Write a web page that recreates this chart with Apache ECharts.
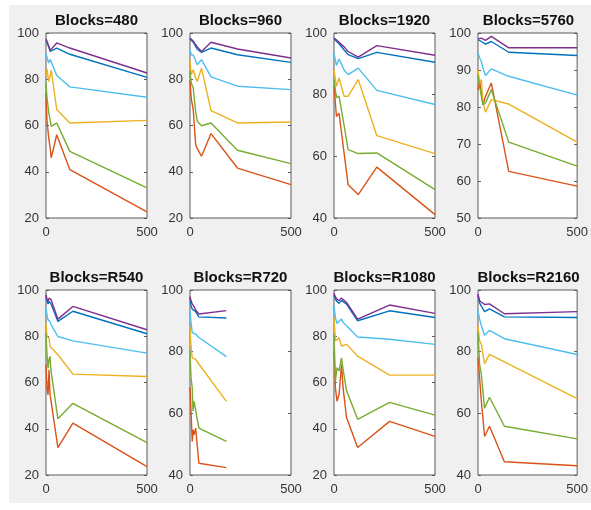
<!DOCTYPE html>
<html>
<head>
<meta charset="utf-8">
<script src="https://cdn.jsdelivr.net/npm/echarts@6/dist/echarts.min.js"></script>
<style>
  html, body { margin: 0; padding: 0; background: #ffffff; }
  #wrap { position: relative; width: 591px; height: 510px; background: #ffffff; overflow: hidden; }
  #figbg { position: absolute; left: 9px; top: 5px; width: 582px; height: 498px; background: #f0f0f0; }
  #chart { position: absolute; left: 0; top: 0; width: 591px; height: 510px; }
</style>
</head>
<body>
<div id="wrap">
  <div id="figbg"></div>
  <div id="chart"></div>
</div>
<script>
// ---- Blocks=480 ----
const x480      = [0, 5, 13, 21, 26, 53, 118, 500];
const purple480 = [97.5, 97.3, 94.5, 92.5, 92.0, 95.7, 93.5, 82.7];
const blue480   = [97.0, 96.5, 94.0, 92.0, 91.7, 93.5, 90.8, 80.8];
const cyan480   = [91.0, 89.5, 87.0, 88.5, 87.5, 81.6, 76.7, 72.2];
const yellow480 = [81.0, 84.5, 79.0, 81.5, 84.0, 66.9, 61.1, 62.2];
const green480  = [78.5, 72.0, 66.0, 62.0, 59.6, 61.1, 48.8, 33.0];
const red480    = [74.0, 62.0, 55.0, 50.0, 46.0, 56.0, 40.9, 22.6];

// ---- Blocks=960 ----
const x960      = [0, 6, 16, 28, 36, 57, 104, 235, 500];
const purple960 = [97.8, 97.5, 96.5, 95.0, 94.0, 92.0, 96.0, 93.1, 89.2];
const blue960   = [97.4, 97.0, 96.0, 94.2, 93.0, 91.6, 93.5, 90.6, 87.3];
const cyan960   = [93.0, 90.6, 90.5, 88.0, 86.3, 88.5, 81.0, 77.0, 75.5];
const yellow960 = [88.5, 82.0, 84.1, 80.5, 79.0, 84.8, 66.4, 61.1, 61.5];
const green960  = [83.4, 78.4, 76.2, 66.0, 61.8, 59.9, 61.1, 49.3, 43.5];
const red960    = [79.7, 71.8, 66.8, 51.7, 50.0, 46.7, 56.5, 41.6, 34.4];

// ---- Blocks=1920 ----
const x1920      = [0, 12, 25, 50, 70, 120, 212, 500];
const purple1920 = [98.4, 97.8, 97.0, 95.5, 94.0, 92.2, 95.9, 92.8];
const blue1920   = [98.1, 97.3, 96.5, 94.5, 93.0, 91.7, 93.7, 90.5];
const cyan1920   = [93.5, 89.5, 91.6, 88.0, 86.5, 88.6, 81.4, 76.8];
const yellow1920 = [88.1, 82.7, 85.4, 79.5, 79.5, 84.9, 66.7, 60.9];
const green1920  = [84.9, 79.0, 79.5, 70.0, 62.2, 60.9, 61.1, 49.2];
const red1920    = [82.9, 72.9, 74.0, 61.0, 50.8, 47.6, 56.5, 41.1];

// ---- Blocks=5760 ----
const x5760      = [0, 8, 17, 25, 38, 67, 155, 500];
const purple5760 = [98.4, 98.5, 98.6, 98.3, 98.0, 99.1, 96.0, 96.0];
const blue5760   = [98.2, 98.0, 97.7, 97.3, 97.0, 97.7, 94.8, 93.9];
const cyan5760   = [94.6, 93.3, 92.3, 90.5, 88.5, 90.3, 88.3, 83.2];
const yellow5760 = [90.1, 86.5, 87.4, 81.1, 78.6, 82.0, 80.8, 70.5];
const green5760  = [88.7, 85.6, 86.0, 80.6, 81.1, 84.7, 70.5, 64.0];
const red5760    = [84.7, 86.9, 83.8, 80.6, 82.9, 86.5, 62.6, 58.6];

// ---- Blocks=R540 ----
const xR540      = [0, 5, 10, 15, 20, 25, 59, 133, 500];
const purpleR540 = [98.0, 96.0, 95.1, 96.5, 96.0, 95.8, 87.4, 92.9, 82.8];
const blueR540   = [97.3, 95.0, 93.9, 95.1, 94.5, 93.9, 86.4, 90.8, 81.1];
const cyanR540   = [92.2, 89.0, 87.1, 86.8, 86.4, 85.0, 79.9, 78.0, 72.7];
const yellowR540 = [85.7, 79.9, 79.5, 79.2, 75.6, 75.6, 72.0, 63.6, 62.6];
const greenR540  = [81.4, 72.0, 66.2, 70.0, 71.3, 64.8, 44.3, 51.0, 34.0];
const redR540    = [67.7, 57.5, 54.7, 65.5, 54.7, 51.8, 31.8, 42.4, 23.6];

// ---- Blocks=R720 ----
const xR720      = [0, 5, 11, 15, 20, 28, 44, 180];
const purpleR720 = [97.8, 96.5, 95.5, 95.0, 94.6, 93.5, 92.2, 93.3];
const blueR720   = [97.6, 95.0, 93.8, 93.5, 93.3, 93.0, 91.3, 90.9];
const cyanR720   = [93.3, 89.5, 86.2, 86.5, 86.2, 85.7, 84.6, 78.4];
const yellowR720 = [88.0, 81.8, 78.0, 77.5, 77.8, 77.5, 76.0, 63.9];
const greenR720  = [80.2, 71.5, 68.3, 60.7, 63.9, 63.4, 55.2, 50.9];
const redR720    = [68.5, 60.7, 50.9, 54.7, 53.0, 55.2, 43.8, 42.4];

// ---- Blocks=R1080 ----
const xR1080      = [0, 7, 15, 25, 37, 45, 62, 117, 275, 500];
const purpleR1080 = [98.6, 97.0, 96.0, 95.4, 96.5, 97.1, 94.6, 87.4, 93.5, 89.9];
const blueR1080   = [98.0, 96.0, 95.0, 94.2, 95.5, 96.1, 93.9, 86.7, 91.0, 88.1];
const cyanR1080   = [93.2, 88.0, 85.5, 86.5, 87.4, 86.0, 84.5, 79.7, 78.7, 76.5];
const yellowR1080 = [88.1, 78.0, 77.5, 79.4, 75.8, 76.0, 76.5, 71.4, 63.2, 63.2];
const greenR1080  = [80.9, 60.6, 66.4, 65.0, 70.7, 65.7, 56.5, 44.1, 51.4, 45.9];
const redR1080    = [73.6, 57.7, 51.9, 54.8, 67.8, 57.7, 44.9, 31.9, 43.2, 36.7];

// ---- Blocks=R2160 ----
const xR2160      = [0, 8, 17, 33, 58, 133, 500];
const purpleR2160 = [98.7, 96.5, 96.0, 95.3, 95.5, 92.3, 93.0];
const blueR2160   = [98.2, 95.8, 94.8, 93.0, 93.9, 91.3, 91.1];
const cyanR2160   = [93.3, 90.5, 88.5, 85.3, 86.9, 84.2, 79.1];
const yellowR2160 = [88.4, 83.5, 82.4, 76.1, 79.1, 76.7, 64.8];
const greenR2160  = [86.2, 75.9, 72.6, 61.7, 65.2, 55.8, 51.7];
const redR2160    = [78.0, 71.5, 63.9, 52.5, 55.8, 44.3, 43.0];

// Subplot titles and y-axis ranges
const titles = ['Blocks=480', 'Blocks=960', 'Blocks=1920', 'Blocks=5760',
                'Blocks=R540', 'Blocks=R720', 'Blocks=R1080', 'Blocks=R2160'];
const yRanges = [[20, 100, 20], [20, 100, 20], [40, 100, 20], [50, 100, 10],
                 [20, 100, 20], [40, 100, 20], [20, 100, 20], [40, 100, 20]];
const xTicks = [0, 500];

// Plot order (and colours) follows the default line colour cycle
const colors = ['#0072BD', '#D95319', '#EDB120', '#7E2F8E', '#77AC30', '#4DBEEE'];
const panelData = [
  [x480,   [blue480,   red480,   yellow480,   purple480,   green480,   cyan480]],
  [x960,   [blue960,   red960,   yellow960,   purple960,   green960,   cyan960]],
  [x1920,  [blue1920,  red1920,  yellow1920,  purple1920,  green1920,  cyan1920]],
  [x5760,  [blue5760,  red5760,  yellow5760,  purple5760,  green5760,  cyan5760]],
  [xR540,  [blueR540,  redR540,  yellowR540,  purpleR540,  greenR540,  cyanR540]],
  [xR720,  [blueR720,  redR720,  yellowR720,  purpleR720,  greenR720,  cyanR720]],
  [xR1080, [blueR1080, redR1080, yellowR1080, purpleR1080, greenR1080, cyanR1080]],
  [xR2160, [blueR2160, redR2160, yellowR2160, purpleR2160, greenR2160, cyanR2160]]
];

const FONT = "'Liberation Sans', Arial, Helvetica, sans-serif";
const colLeft = [46, 190, 334, 478];
const rowTop = [33, 290];
const boxW = 101, boxH = 185;

const grid = [], xAxis = [], yAxis = [], series = [], title = [];

panelData.forEach(function (p, i) {
  const col = i % 4, row = Math.floor(i / 4);
  const left = colLeft[col], top = rowTop[row];
  grid.push({
    left: left, top: top, width: boxW, height: boxH,
    show: true, backgroundColor: '#ffffff', borderColor: '#5a5a5a', borderWidth: 1
  });
  title.push({
    text: titles[i], left: left + boxW / 2, top: top - 20, textAlign: 'center', padding: 0,
    textStyle: { fontFamily: FONT, fontSize: 15, fontWeight: 'bold', color: '#111111' }
  });
  xAxis.push({
    type: 'value', gridIndex: i, min: xTicks[0], max: xTicks[1], interval: xTicks[1] - xTicks[0],
    axisLine: { show: false }, axisTick: { show: false }, splitLine: { show: false },
    axisLabel: { margin: 8, fontFamily: FONT, fontSize: 13, color: '#333333' }
  });
  const yr = yRanges[i];
  const yBase = {
    type: 'value', gridIndex: i, min: yr[0], max: yr[1], interval: yr[2],
    axisLine: { show: false }, splitLine: { show: false },
    axisTick: { show: true, inside: true, length: 3, lineStyle: { color: '#5a5a5a', width: 1 } }
  };
  yAxis.push(Object.assign({}, yBase, {
    position: 'left',
    axisLabel: { margin: 7, fontFamily: FONT, fontSize: 13, color: '#333333' }
  }));
  yAxis.push(Object.assign({}, yBase, {
    position: 'right', axisLabel: { show: false }
  }));
  const xs = p[0];
  p[1].forEach(function (vals, k) {
    series.push({
      type: 'line', xAxisIndex: i, yAxisIndex: 2 * i,
      data: xs.map(function (x, j) { return [x, vals[j]]; }),
      showSymbol: false, symbol: 'none', clip: true,
      lineStyle: { color: colors[k], width: 1.4 },
      itemStyle: { color: colors[k] }
    });
  });
});

const chart = echarts.init(document.getElementById('chart'), null, { renderer: 'canvas' });
chart.setOption({
  animation: false,
  backgroundColor: 'transparent',
  title: title, grid: grid, xAxis: xAxis, yAxis: yAxis, series: series
});
</script>
</body>
</html>
